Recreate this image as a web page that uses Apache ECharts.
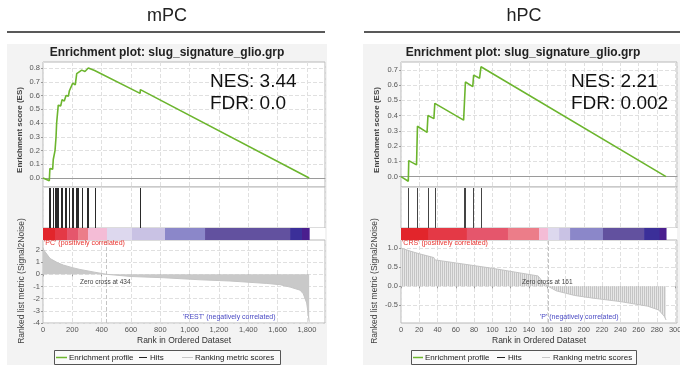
<!DOCTYPE html>
<html>
<head>
<meta charset="utf-8">
<script src="https://cdn.jsdelivr.net/npm/echarts@6/dist/echarts.min.js"></script>
<style>
html, body { margin: 0; padding: 0; background: #fff; }
#chart { width: 680px; height: 370px; }
</style>
</head>
<body>
<div id="chart"></div>
<script>
// ---- data ----
const panelNames = ['mPC', 'hPC'];
const plotTitle = 'Enrichment plot: slug_signature_glio.grp';
const nesLabels = ['NES: 3.44', 'NES: 2.21'];
const fdrLabels = ['FDR: 0.0', 'FDR: 0.002'];
const posLabels = ["'PC' (positively correlated)", "'CRS' (positively correlated)"];
const negLabels = ["'REST' (negatively correlated)", "'P' (negatively correlated)"];
const zeroCross = [434, 161];

// mPC: running enrichment score [rank, ES]
const mpcES = [[0, 0], [43, -0.02], [47, 0.07], [66, 0.065], [70, 0.135], [82, 0.2], [89, 0.3], [93, 0.4],
  [104, 0.53], [121, 0.525], [130, 0.57], [145, 0.56], [157, 0.6], [173, 0.596], [180, 0.635],
  [193, 0.625], [203, 0.69], [220, 0.677], [230, 0.76], [241, 0.77], [264, 0.785], [286, 0.775],
  [309, 0.8], [352, 0.782], [356, 0.79], [662, 0.616], [664, 0.643], [1815, 0]];
const mpcHits = [44, 47, 67, 70, 80, 84, 88, 92, 96, 102, 126, 130, 148, 155, 176, 198, 202, 226, 230,
  240, 264, 298, 308, 355, 663];
// colour-bar bin edges (rank)
const mpcBins = [0, 82, 164, 239, 307, 436, 607, 832, 1105, 1685, 1766, 1815];
// ranked list metric [rank, signal2noise]
const mpcMetric = [[0, 2.2], [5, 2.0], [14, 1.85], [48, 1.3], [100, 0.95], [139, 0.76], [200, 0.55],
  [252, 0.4], [350, 0.18], [434, 0], [600, -0.18], [821, -0.28], [1071, -0.45], [1275, -0.55],
  [1526, -0.75], [1616, -0.85], [1685, -1.05], [1753, -1.3], [1775, -1.6], [1798, -2.35],
  [1809, -3.3], [1815, -3.9]];
const mpcEsTicks = [0, 0.1, 0.2, 0.3, 0.4, 0.5, 0.6, 0.7, 0.8];
const mpcMetricTicks = [-4, -3, -2, -1, 0, 1, 2];

// hPC
const hpcES = [[0, 0], [8, -0.03], [8.5, 0.105], [17, 0.077], [18, 0.33], [28.5, 0.29], [29.5, 0.4],
  [36, 0.38], [37, 0.48], [68.5, 0.37], [70.5, 0.62], [78.5, 0.59], [79.5, 0.665], [86, 0.645],
  [87.5, 0.72], [290, 0]];
const hpcHits = [8, 18, 29, 37, 69, 70, 79, 87];
const hpcBins = [0, 30, 72, 117, 151, 161, 173, 185, 221, 266, 283, 290];
const hpcMetric = [[0, 1.0], [10, 0.92], [20, 0.85], [36, 0.75], [37, 0.69], [60, 0.61], [100, 0.47],
  [130, 0.35], [150, 0.27], [153, 0.18], [158, 0.05], [161, 0], [170, -0.12], [190, -0.24],
  [210, -0.31], [240, -0.4], [270, -0.52], [282, -0.62], [288, -0.78], [290, -0.88]];
const hpcEsTicks = [0, 0.1, 0.2, 0.3, 0.4, 0.5, 0.6, 0.7];
const hpcMetricTicks = [-0.5, 0, 0.5, 1.0];

// ---- layout / style ----
const binColors = ['#e2252b', '#e43946', '#e5566c', '#ec7d89', '#f4bcd6', '#ddd8ee', '#c9c2e4',
  '#8b87c9', '#62519f', '#3b2f99', '#4a1e8e'];
const FONT = 'Liberation Sans';

// striped fill for the hPC metric (one bar per gene in the original)
const stripe = document.createElement('canvas');
stripe.width = 2; stripe.height = 1;
const sctx = stripe.getContext('2d');
sctx.fillStyle = '#c4c4c4'; sctx.fillRect(0, 0, 1, 1);
sctx.fillStyle = '#e6e6e6'; sctx.fillRect(1, 0, 1, 1);

const panels = [
  { es: mpcES, hits: mpcHits, bins: mpcBins, metric: mpcMetric, esTicks: mpcEsTicks, mTicks: mpcMetricTicks,
    x0: 43, x1: 325, xMax: 1923, xStep: 200, esRange: [-0.065, 0.844], mRange: [-4, 2.82], mDigits: 0,
    fill: '#c9c9c9' },
  { es: hpcES, hits: hpcHits, bins: hpcBins, metric: hpcMetric, esTicks: hpcEsTicks, mTicks: hpcMetricTicks,
    x0: 401, x1: 677, xMax: 302, xStep: 20, esRange: [-0.068, 0.751], mRange: [-0.96, 1.21], mDigits: 1,
    fill: { image: stripe, repeat: 'repeat' } }
];
const rows = { es: [62, 187], hits: [187, 228], bar: [228, 240], metric: [240, 323] };

const grids = [], xAxes = [], yAxes = [], series = [];
const dash = { type: 'dashed', color: '#e0e0e0', width: 1 };
const tickLabel = { fontSize: 7.5, color: '#555', fontFamily: FONT };

panels.forEach((p, pi) => {
  ['es', 'hits', 'bar', 'metric'].forEach((r) => {
    const gi = grids.length;
    grids.push({
      left: p.x0, top: rows[r][0], width: p.x1 - p.x0, height: rows[r][1] - rows[r][0],
      show: true, backgroundColor: '#fff', borderColor: r === 'bar' ? 'transparent' : '#b8b8b8',
      borderWidth: 1, outerBoundsMode: 'none'
    });
    const isBottom = r === 'metric';
    xAxes.push({
      gridIndex: gi, type: 'value', min: 0, max: p.xMax, interval: p.xStep,
      axisLine: { show: r === 'es', onZero: true, lineStyle: { color: '#9a9a9a' } },
      axisTick: { show: isBottom, length: 2, lineStyle: { color: '#999' } },
      axisLabel: isBottom ? Object.assign({ margin: 3, showMaxLabel: false,
        formatter: (v) => v.toLocaleString('en-US') }, tickLabel) : { show: false },
      splitLine: { show: r !== 'bar', lineStyle: dash }
    });
    let y;
    if (r === 'es' || r === 'metric') {
      const ticks = r === 'es' ? p.esTicks : p.mTicks;
      const rng = r === 'es' ? p.esRange : p.mRange;
      const digits = r === 'es' ? 1 : p.mDigits;
      y = {
        gridIndex: gi, type: 'value', min: rng[0], max: rng[1],
        axisLine: { show: false },
        axisTick: { show: true, customValues: ticks, length: 2, lineStyle: { color: '#999' } },
        axisLabel: Object.assign({ customValues: ticks, margin: 3,
          formatter: (v) => Number(v).toFixed(digits) }, tickLabel),
        splitLine: { show: true, lineStyle: dash }
      };
    } else {
      y = { gridIndex: gi, type: 'value', min: 0, max: 1, show: false, splitLine: { show: false } };
    }
    yAxes.push(y);

    if (r === 'es') {
      series.push({
        name: 'Enrichment profile', type: 'line', xAxisIndex: gi, yAxisIndex: gi,
        data: p.es, symbol: 'none', lineStyle: { color: '#6cb52e', width: 1.6 }, z: 5
      });
    } else if (r === 'hits') {
      series.push({
        name: 'Hits', type: 'custom', xAxisIndex: gi, yAxisIndex: gi,
        data: p.hits.map((h) => [h]),
        renderItem: (params, api) => {
          const x = Math.round(api.coord([api.value(0), 0])[0]) + 0.5;
          const cs = params.coordSys;
          return { type: 'line', shape: { x1: x, y1: cs.y + 1, x2: x, y2: cs.y + cs.height },
            style: { stroke: pi === 0 ? '#2a2a2a' : '#444', lineWidth: 1 } };
        }
      });
    } else if (r === 'bar') {
      const segs = [];
      for (let i = 0; i < p.bins.length - 1; i++) segs.push([p.bins[i], p.bins[i + 1], i]);
      series.push({
        name: 'colour bar', type: 'custom', xAxisIndex: gi, yAxisIndex: gi, data: segs,
        renderItem: (params, api) => {
          const a = api.coord([api.value(0), 1]);
          const b = api.coord([api.value(1), 0]);
          return { type: 'rect', shape: { x: a[0], y: a[1], width: b[0] - a[0] + 0.5, height: b[1] - a[1] },
            style: { fill: binColors[api.value(2)] } };
        }
      });
    } else {
      series.push({
        name: 'Ranking metric scores', type: 'line', xAxisIndex: gi, yAxisIndex: gi,
        data: p.metric, symbol: 'none',
        lineStyle: { color: '#c4c4c4', width: 1 },
        areaStyle: { color: p.fill, opacity: 1, origin: 0 },
        markLine: {
          silent: true, symbol: 'none', label: { show: false },
          lineStyle: { type: 'dashed', color: '#c4c4c4', width: 1 },
          data: [{ xAxis: zeroCross[pi] }]
        }
      });
    }
  });
});

// ---- static text / frames ----
const graphics = [];
const bgs = [[7, 327], [363, 680]];
const hr = [[7, 325], [364, 680]];
const titleX = [167, 524];
const plotTitleX = [167, 523];
const nesX = [210, 571];
const esNameX = [20, 377];
const mNameX = [22, 375];
const zeroTextX = [80, 522];
const negX = [183, 540];
const legends = [
  { box: [54, 280], g: [56, 67], tg: 69, k: [139, 147], tk: 150, s: [182, 193], ts: 195 },
  { box: [411, 636], g: [413, 423], tg: 425, k: [497, 505], tk: 508, s: [542, 550], ts: 553 }
];
function txt(x, y, text, size, extra) {
  return Object.assign({ type: 'text', x: x, y: y, z: 100,
    style: Object.assign({ text: text, fontSize: size, fontFamily: FONT, fill: '#222',
      align: 'center', verticalAlign: 'middle' }, (extra && extra.style) || {}) },
    extra ? { rotation: extra.rotation || 0 } : {});
}
[0, 1].forEach((i) => {
  const p = panels[i];
  graphics.push({ type: 'rect', z: -10, shape: { x: bgs[i][0], y: 44, width: bgs[i][1] - bgs[i][0], height: 321 },
    style: { fill: '#f3f3f3' } });
  graphics.push({ type: 'line', z: 100, shape: { x1: hr[i][0], y1: 32, x2: hr[i][1], y2: 32 },
    style: { stroke: '#222', lineWidth: 1.5 } });
  graphics.push(txt(titleX[i], 16, panelNames[i], 18));
  graphics.push(txt(plotTitleX[i], 53, plotTitle, 12, { style: { fontWeight: 'bold' } }));
  graphics.push(txt(nesX[i], 82, nesLabels[i], 19, { style: { align: 'left', fill: '#111' } }));
  graphics.push(txt(nesX[i], 104, fdrLabels[i], 19, { style: { align: 'left', fill: '#111' } }));
  graphics.push(txt(esNameX[i], 130, 'Enrichment score (ES)', 8,
    { rotation: Math.PI / 2, style: { fontWeight: 'bold', fill: '#444' } }));
  graphics.push(txt(mNameX[i], 281, 'Ranked list metric (Signal2Noise)', 8.5,
    { rotation: Math.PI / 2, style: { fill: '#444' } }));
  graphics.push(txt((p.x0 + p.x1) / 2, 341, 'Rank in Ordered Dataset', 8.5, { style: { fill: '#333' } }));
  graphics.push(txt(p.x0 + 1, 243.5, posLabels[i], 7, { style: { align: 'left', fill: '#e8322d' } }));
  graphics.push(txt(negX[i], 317, negLabels[i], 7, { style: { align: 'left', fill: '#4a4ac4' } }));
  graphics.push(txt(zeroTextX[i], 282, 'Zero cross at ' + zeroCross[i], 6.5, { style: { align: 'left', fill: '#444' } }));
  const L = legends[i];
  graphics.push({ type: 'rect', z: 100, shape: { x: L.box[0] + 0.5, y: 350.5, width: L.box[1] - L.box[0], height: 14 },
    style: { fill: '#fafafa', stroke: '#555', lineWidth: 1 } });
  graphics.push({ type: 'line', z: 101, shape: { x1: L.g[0], y1: 357.5, x2: L.g[1], y2: 357.5 },
    style: { stroke: '#6cb52e', lineWidth: 1.5 } });
  graphics.push({ type: 'line', z: 101, shape: { x1: L.k[0], y1: 357.5, x2: L.k[1], y2: 357.5 },
    style: { stroke: '#222', lineWidth: 1 } });
  graphics.push({ type: 'line', z: 101, shape: { x1: L.s[0], y1: 357.5, x2: L.s[1], y2: 357.5 },
    style: { stroke: '#c8c8c8', lineWidth: 1 } });
  graphics.push(txt(L.tg, 357.5, 'Enrichment profile', 8, { style: { align: 'left' } }));
  graphics.push(txt(L.tk, 357.5, 'Hits', 8, { style: { align: 'left' } }));
  graphics.push(txt(L.ts, 357.5, 'Ranking metric scores', 8, { style: { align: 'left' } }));
});

const chart = echarts.init(document.getElementById('chart'), null, { renderer: 'canvas' });
chart.setOption({
  animation: false,
  backgroundColor: '#fff',
  grid: grids,
  xAxis: xAxes,
  yAxis: yAxes,
  series: series,
  graphic: graphics
});
</script>
</body>
</html>
